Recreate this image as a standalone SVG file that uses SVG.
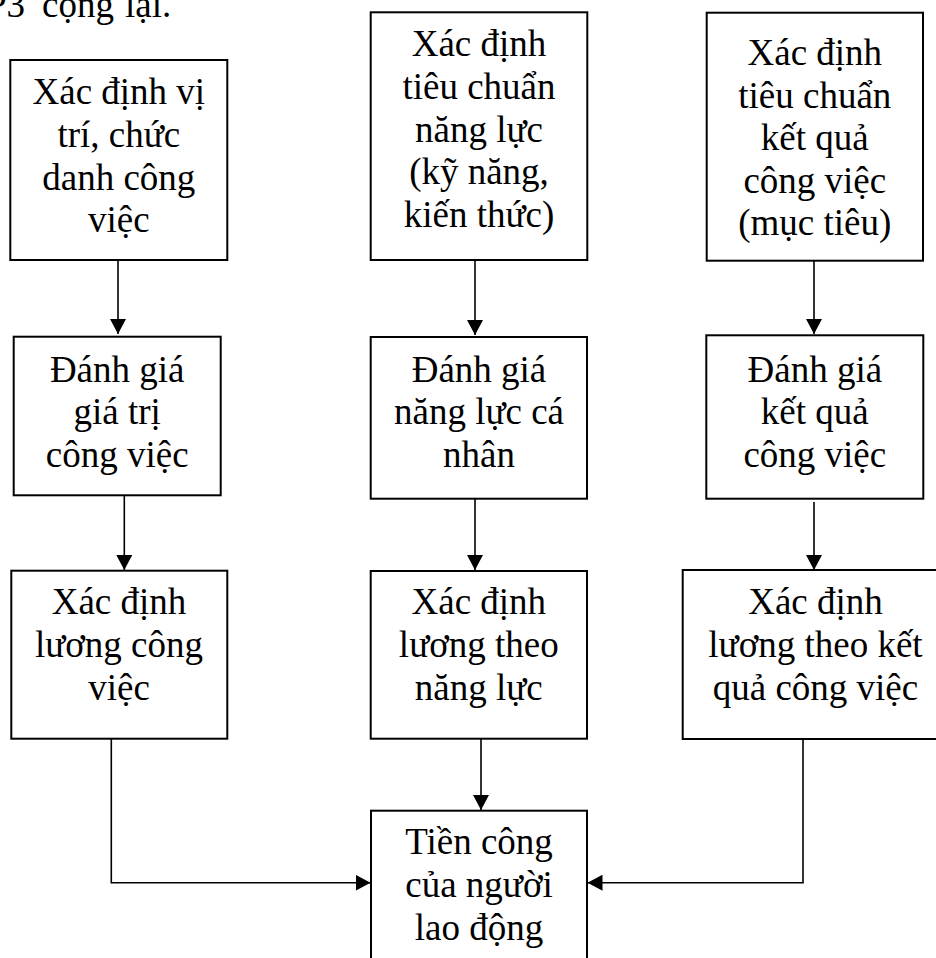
<svg xmlns="http://www.w3.org/2000/svg" width="936" height="958" viewBox="0 0 936 958">
<defs>
<style>
.box{fill:#fff;stroke:#000;stroke-width:2}
.t{font-family:"Liberation Serif","Times New Roman",serif;font-size:37px;fill:#000;text-anchor:middle}
.c{fill:none;stroke:#000;stroke-width:1.6}
</style>
<marker id="ah" markerUnits="userSpaceOnUse" markerWidth="15" markerHeight="16" refX="15" refY="8" orient="auto">
<path d="M0,0 L15,8 L0,16 Z" fill="#000"/>
</marker>
</defs>
<rect width="936" height="958" fill="#fff"/>
<text class="t" style="text-anchor:start" y="17"><tspan x="-14">P3</tspan><tspan x="42">cộng</tspan><tspan x="125">lại.</tspan></text>

<g id="n1"><rect class="box" x="10.3" y="60" width="217" height="200"/>
<text class="t"><tspan x="118.8" y="104">Xác định vị</tspan><tspan x="118.8" y="147">trí, chức</tspan><tspan x="118.8" y="190">danh công</tspan><tspan x="118.8" y="232">việc</tspan></text></g>

<g id="n2"><rect class="box" x="370.7" y="12.3" width="216.6" height="247.7"/>
<text class="t"><tspan x="479" y="56">Xác định</tspan><tspan x="479" y="99">tiêu chuẩn</tspan><tspan x="479" y="141.5">năng lực</tspan><tspan x="479" y="184">(kỹ năng,</tspan><tspan x="479" y="226.5">kiến thức)</tspan></text></g>

<g id="n3"><rect class="box" x="706.7" y="12.7" width="216.3" height="248"/>
<text class="t"><tspan x="814.8" y="65">Xác định</tspan><tspan x="814.8" y="107.5">tiêu chuẩn</tspan><tspan x="814.8" y="150">kết quả</tspan><tspan x="814.8" y="192.5">công việc</tspan><tspan x="814.8" y="235">(mục tiêu)</tspan></text></g>

<g id="n4"><rect class="box" x="13.7" y="336.7" width="207" height="158.6"/>
<text class="t"><tspan x="117.2" y="381.5">Đánh giá</tspan><tspan x="117.2" y="424">giá trị</tspan><tspan x="117.2" y="466.5">công việc</tspan></text></g>

<g id="n5"><rect class="box" x="370.7" y="337" width="216.3" height="161.7"/>
<text class="t"><tspan x="479" y="381.5">Đánh giá</tspan><tspan x="479" y="424">năng lực cá</tspan><tspan x="479" y="466.5">nhân</tspan></text></g>

<g id="n6"><rect class="box" x="706.3" y="335.3" width="217" height="163.4"/>
<text class="t"><tspan x="814.8" y="381.5">Đánh giá</tspan><tspan x="814.8" y="424">kết quả</tspan><tspan x="814.8" y="466.5">công việc</tspan></text></g>

<g id="n7"><rect class="box" x="11.3" y="570.7" width="216" height="168"/>
<text class="t"><tspan x="119" y="614">Xác định</tspan><tspan x="119" y="657">lương công</tspan><tspan x="119" y="699.5">việc</tspan></text></g>

<g id="n8"><rect class="box" x="370.7" y="571" width="216.3" height="167.7"/>
<text class="t"><tspan x="478.8" y="614">Xác định</tspan><tspan x="478.8" y="657">lương theo</tspan><tspan x="478.8" y="699.5">năng lực</tspan></text></g>

<g id="n9"><rect class="box" x="682.7" y="570" width="266" height="169"/>
<text class="t"><tspan x="815.5" y="614">Xác định</tspan><tspan x="815.5" y="657">lương theo kết</tspan><tspan x="815.5" y="699.5">quả công việc</tspan></text></g>

<g id="n10"><rect class="box" x="371" y="810.7" width="216" height="170"/>
<text class="t"><tspan x="479" y="854">Tiền công</tspan><tspan x="479" y="897">của người</tspan><tspan x="479" y="940">lao động</tspan></text></g>

<g id="connectors">
<path class="c" d="M118,260 V334" marker-end="url(#ah)"/>
<path class="c" d="M124.3,496 V570" marker-end="url(#ah)"/>
<path class="c" d="M475,260 V335" marker-end="url(#ah)"/>
<path class="c" d="M475,499 V570" marker-end="url(#ah)"/>
<path class="c" d="M814,261 V334" marker-end="url(#ah)"/>
<path class="c" d="M814,502 V570" marker-end="url(#ah)"/>
<path class="c" d="M111.3,739 V882.7 H370.5" marker-end="url(#ah)"/>
<path class="c" d="M481,739 V810" marker-end="url(#ah)"/>
<path class="c" d="M803,739 V882.7 H587.5" marker-end="url(#ah)"/>
</g>
</svg>
